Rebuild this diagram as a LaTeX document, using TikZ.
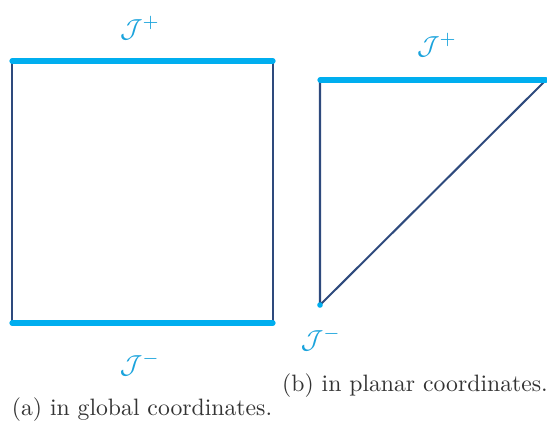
\documentclass[tikz,border=0pt]{standalone}
\usepackage{amsmath}
\definecolor{scri}{HTML}{00AEEF}
\definecolor{scritext}{HTML}{1AA3DC}
\definecolor{edge}{HTML}{2E4A7D}
\definecolor{captxt}{HTML}{333333}
\begin{document}
\begin{tikzpicture}[x=0.4219pt,y=-0.4219pt,
  bnd/.style={line width=2.2pt,scri,line cap=round},
  side/.style={line width=0.85pt,edge},
  lbl/.style={text=scritext,inner sep=0pt,scale=1.1},
  captext/.style={text=captxt,inner sep=0pt}]
\useasboundingbox (0,0) rectangle (547,429);
% (a) global
\coordinate (A) at (12,61);
\coordinate (B) at (273,61);
\coordinate (C) at (273,323);
\coordinate (D) at (12,323);
\draw[side] (A) -- (D);
\draw[side] (B) -- (C);
\draw[bnd] (A) -- (B);
\draw[bnd] (D) -- (C);
\node[lbl] (ap) at (140,28) {$\mathcal{J}^{+}$};
\node[lbl] (am) at (140,364) {$\mathcal{J}^{-}$};
\node[captext] (capa) at (142,410) {(a) in global coordinates.};
% (b) planar
\coordinate (P) at (320,80);
\coordinate (Q) at (546,80);
\coordinate (R) at (320,305);
\draw[side] (P) -- (R) -- (Q);
\draw[bnd] (P) -- (Q);
\fill[scri] (R) circle (2.8);
\node[lbl] (bp) at (437,45) {$\mathcal{J}^{+}$};
\node[lbl] (bm) at (321,339) {$\mathcal{J}^{-}$};
\node[captext] (capb) at (415,386) {(b) in planar coordinates.};
\end{tikzpicture}
\end{document}
